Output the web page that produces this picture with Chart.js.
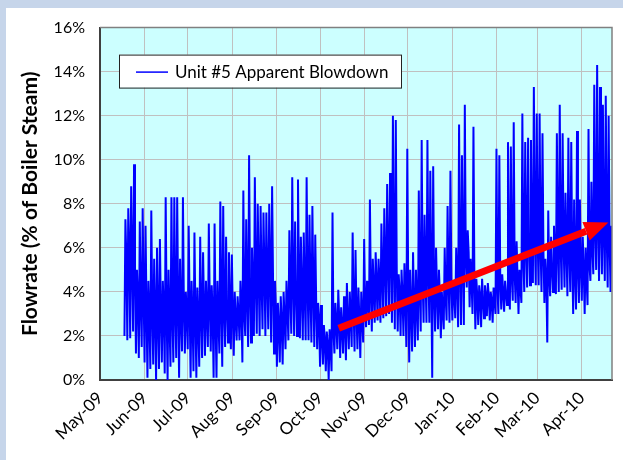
<!DOCTYPE html>
<html>
<head>
<meta charset="utf-8">
<script src="https://cdn.jsdelivr.net/npm/chart.js@4.4.0/dist/chart.umd.min.js"></script>
<style>
  html, body { margin: 0; padding: 0; background: #C6D5EA; }
  #wrap { position: absolute; left: 6px; top: 8px; width: 617px; height: 452px; background: #fff; overflow: hidden; }
  #blowdown { position: absolute; left: 0; top: -5px; }
</style>
</head>
<body>
<div id="wrap"><canvas id="blowdown" width="617" height="457"></canvas></div>
<script>
// x axis: days since 1 May 2009, one tick per month start
const monthDays = [0, 31, 61, 92, 123, 153, 184, 214, 245, 276, 304, 335];
const monthLabels = ["May-09", "Jun-09", "Jul-09", "Aug-09", "Sep-09", "Oct-09",
  "Nov-09", "Dec-09", "Jan-10", "Feb-10", "Mar-10", "Apr-10"];
const yTicks = [0, 2, 4, 6, 8, 10, 12, 14, 16];

// readings in 2-day bins starting 18 May 2009 (day 17): low dip, spike peak, top of dense band (%)
const binStart = 17;
const binDays = 2;
const lows = [
  2.0, 1.8, 1.9, 2.2, 1.2, 1.0, 1.5, 0.8, 0.1, 0.5, 0.7, 0.0, 0.5, 0.8, 0.3, 0.0, 0.6,
  0.8, 1.0, 0.1, 1.3, 1.2, 1.4, 0.1, 0.4, 0.1, 0.6, 1.0, 1.1, 1.5, 1.3, 0.1, 0.1, 1.2,
  0.6, 1.5, 1.7, 1.4, 1.1, 1.8, 1.8, 0.8, 2.0, 1.5, 1.7, 2.0, 2.1, 2.0, 2.3, 2.0, 2.3,
  1.7, 1.2, 0.6, 0.8, 0.7, 1.4, 1.8, 2.1, 2.0, 2.0, 1.9, 1.8, 1.8, 1.8, 1.7, 1.5, 1.4,
  0.6, 0.7, 0.4, 0.0, 0.4, 1.2, 1.4, 1.0, 1.2, 0.9, 1.4, 1.5, 1.3, 1.4, 1.0, 1.7, 2.4,
  2.5, 2.2, 2.6, 2.7, 2.6, 2.8, 2.9, 3.0, 2.6, 2.3, 2.2, 2.0, 2.0, 1.5, 0.8, 1.3, 1.5,
  1.8, 2.2, 2.6, 2.6, 2.6, 0.1, 2.2, 2.3, 1.9, 2.3, 2.7, 2.6, 2.7, 2.8, 2.4, 2.5, 2.5,
  4.2, 3.3, 3.0, 2.3, 2.5, 2.4, 2.8, 2.9, 2.7, 2.6, 3.0, 3.0, 3.2, 3.1, 3.4, 3.2, 3.6,
  3.5, 3.0, 3.5, 4.0, 4.2, 4.3, 4.4, 4.3, 4.3, 4.0, 3.5, 1.7, 3.8, 4.0, 3.9, 4.0, 4.1,
  4.2, 3.8, 4.0, 3.0, 3.2, 3.5, 3.6, 3.0, 3.4, 4.5, 4.8, 5.0, 4.5, 4.8, 4.5, 4.2, 4.0
];
const peaks = [
  7.3, 7.8, 8.8, 9.8, 5.0, 7.2, 7.8, 7.0, 4.5, 7.7, 5.5, 6.0, 6.4, 4.5, 8.3, 5.0, 8.3,
  8.3, 8.3, 5.5, 8.3, 4.0, 7.0, 4.5, 6.7, 4.2, 6.5, 5.8, 4.5, 7.1, 4.3, 7.1, 4.5, 8.1,
  7.9, 6.5, 5.8, 5.7, 4.0, 3.8, 4.5, 8.6, 7.3, 10.2, 6.0, 9.2, 8.0, 7.9, 7.6, 7.6, 8.0,
  8.8, 4.5, 3.5, 3.8, 4.0, 4.5, 6.8, 9.2, 7.2, 9.1, 6.5, 6.7, 9.2, 7.5, 7.9, 6.6, 3.5,
  3.4, 2.5, 2.2, 2.3, 7.6, 3.5, 4.1, 3.3, 3.8, 4.4, 4.0, 6.7, 5.9, 4.2, 4.0, 6.4, 4.5,
  8.2, 5.5, 5.8, 5.5, 7.1, 7.8, 8.9, 9.4, 12.0, 11.8, 4.8, 5.0, 5.3, 10.5, 5.0, 5.8, 5.0,
  8.6, 10.9, 7.5, 10.9, 9.5, 9.7, 6.0, 5.0, 4.0, 6.0, 7.9, 9.5, 4.5, 6.0, 11.6, 10.2, 12.5,
  6.8, 5.5, 11.5, 4.6, 4.3, 4.6, 4.3, 4.4, 4.0, 4.2, 10.5, 10.2, 4.8, 4.5, 10.8, 10.6, 11.7,
  6.3, 5.0, 12.1, 10.8, 11.0, 10.9, 13.3, 12.1, 12.1, 11.2, 5.5, 7.7, 6.5, 7.0, 11.2, 12.5, 11.2,
  8.5, 11.0, 10.8, 8.2, 11.3, 8.2, 6.5, 6.0, 11.4, 9.0, 13.4, 14.3, 13.3, 12.5, 12.9, 12.0, 7.0
];
const bandTops = [
  5.5, 6.0, 5.5, 5.0, 3.8, 3.5, 3.8, 3.2, 3.0, 3.2, 3.0, 2.8, 3.0, 3.2, 3.0, 2.6, 3.0,
  3.2, 3.5, 2.8, 3.2, 3.0, 3.3, 2.8, 3.0, 2.6, 3.0, 3.2, 3.0, 3.4, 3.0, 2.8, 2.8, 3.4,
  3.2, 3.3, 3.2, 3.0, 2.8, 3.0, 3.2, 3.0, 3.8, 4.0, 4.2, 4.5, 4.8, 4.5, 5.0, 4.6, 5.0,
  4.5, 3.2, 2.5, 2.6, 2.8, 3.2, 4.0, 4.5, 4.2, 4.4, 4.0, 4.0, 4.3, 4.0, 4.2, 3.5, 2.8,
  2.0, 1.8, 1.6, 1.5, 2.2, 2.6, 2.8, 2.4, 2.5, 2.6, 2.8, 3.2, 3.0, 2.8, 2.7, 3.4, 3.6,
  4.0, 4.2, 4.4, 4.5, 4.8, 5.2, 5.5, 5.8, 5.5, 5.0, 4.0, 3.8, 3.8, 4.0, 3.2, 3.3, 3.4,
  4.0, 4.5, 4.8, 5.0, 4.6, 4.0, 4.0, 3.8, 3.2, 3.8, 4.5, 4.4, 4.0, 4.5, 5.0, 5.2, 5.6,
  5.8, 4.5, 4.4, 3.8, 3.8, 3.7, 3.8, 3.8, 3.6, 3.6, 4.2, 4.4, 4.0, 4.0, 4.6, 4.6, 4.8,
  4.6, 4.2, 5.5, 6.0, 6.2, 6.0, 6.4, 6.2, 6.0, 5.8, 4.6, 4.8, 5.2, 5.5, 5.8, 6.0, 6.2,
  6.0, 5.8, 5.6, 4.8, 5.0, 5.2, 5.0, 4.6, 5.2, 6.0, 6.8, 7.0, 6.8, 6.6, 6.5, 6.2, 5.5
];

// red trend arrow, in axis units [day, %]
const arrowFrom = [166, 2.35];
const arrowTo = [353.5, 7.15];

const points = [];
lows.forEach(function(lo, i) {
  const d = binStart + i * binDays;
  points.push({ x: d, y: lo });
  points.push({ x: d + binDays / 3, y: peaks[i] });
  points.push({ x: d + 2 * binDays / 3, y: bandTops[i] });
});

const plotDecor = {
  id: "plotDecor",
  beforeDraw(chart) {
    const ca = chart.chartArea, ctx = chart.ctx;
    ctx.save();
    ctx.fillStyle = "#CCFFFF";
    ctx.fillRect(ca.left, ca.top, ca.right - ca.left, ca.bottom - ca.top);
    ctx.restore();
  },
  afterDatasetsDraw(chart) {
    const ctx = chart.ctx, xs = chart.scales.x, ys = chart.scales.y;
    const x0 = xs.getPixelForValue(arrowFrom[0]), y0 = ys.getPixelForValue(arrowFrom[1]);
    const x1 = xs.getPixelForValue(arrowTo[0]), y1 = ys.getPixelForValue(arrowTo[1]);
    const ang = Math.atan2(y1 - y0, x1 - x0);
    const headLen = 24, headHalf = 10;
    const bx = x1 - headLen * Math.cos(ang), by = y1 - headLen * Math.sin(ang);
    ctx.save();
    ctx.strokeStyle = "#FF0000";
    ctx.fillStyle = "#FF0000";
    ctx.lineWidth = 7;
    ctx.beginPath();
    ctx.moveTo(x0, y0);
    ctx.lineTo(bx, by);
    ctx.stroke();
    ctx.beginPath();
    ctx.moveTo(x1, y1);
    ctx.lineTo(bx + headHalf * Math.sin(ang), by - headHalf * Math.cos(ang));
    ctx.lineTo(bx - headHalf * Math.sin(ang), by + headHalf * Math.cos(ang));
    ctx.closePath();
    ctx.fill();
    ctx.restore();
  },
  afterDraw(chart) {
    const ca = chart.chartArea, ctx = chart.ctx;
    ctx.save();
    // top and right frame of the plot
    ctx.strokeStyle = "#808080";
    ctx.lineWidth = 1.5;
    ctx.beginPath();
    ctx.moveTo(ca.left, ca.top);
    ctx.lineTo(ca.right, ca.top);
    ctx.lineTo(ca.right, ca.bottom);
    ctx.stroke();
    // legend box
    const lx = ca.left + 19, ly = ca.top + 27, lw = 282, lh = 33;
    ctx.fillStyle = "#FFFFFF";
    ctx.fillRect(lx, ly, lw, lh);
    ctx.strokeStyle = "#222";
    ctx.lineWidth = 1;
    ctx.strokeRect(lx + 0.5, ly + 0.5, lw, lh);
    ctx.strokeStyle = "#0000FF";
    ctx.lineWidth = 1.5;
    ctx.beginPath();
    ctx.moveTo(lx + 17, ly + lh / 2 + 1);
    ctx.lineTo(lx + 49, ly + lh / 2 + 1);
    ctx.stroke();
    ctx.fillStyle = "#000";
    ctx.font = "17px Lato";
    ctx.textBaseline = "middle";
    ctx.fillText(chart.data.datasets[0].label, lx + 56, ly + lh / 2 + 1);
    ctx.restore();
  }
};

new Chart(document.getElementById("blowdown"), {
  type: "line",
  data: {
    datasets: [{
      label: "Unit #5 Apparent Blowdown",
      data: points,
      borderColor: "#0000FF",
      borderWidth: 2,
      pointRadius: 0,
      tension: 0,
      fill: false
    }]
  },
  options: {
    responsive: false,
    animation: false,
    events: [],
    layout: { padding: { left: 8, top: 15, right: 11, bottom: 0 } },
    plugins: { legend: { display: false }, tooltip: { enabled: false } },
    scales: {
      x: {
        type: "linear",
        min: 0,
        max: 356,
        afterBuildTicks: function(scale) {
          scale.ticks = monthDays.map(function(d) { return { value: d }; });
        },
        afterFit: function(scale) { scale.height = 80; },
        ticks: {
          autoSkip: false,
          maxRotation: 45,
          minRotation: 45,
          padding: 8,
          color: "#000",
          font: { family: "Lato", size: 17 },
          callback: function(v, i) { return monthLabels[i]; }
        },
        grid: { color: "#C0C0C0", lineWidth: 1, drawTicks: false },
        border: { color: "#404040", width: 2 }
      },
      y: {
        min: 0,
        max: 16,
        afterBuildTicks: function(scale) {
          scale.ticks = yTicks.map(function(v) { return { value: v }; });
        },
        afterFit: function(scale) { scale.width = 86; },
        ticks: {
          padding: 15,
          color: "#000",
          font: { family: "Lato", size: 16 },
          callback: function(v) { return v + "%"; }
        },
        grid: { color: "#C0C0C0", lineWidth: 1, drawTicks: false },
        border: { color: "#404040", width: 2 },
        title: {
          display: true,
          text: "Flowrate (% of Boiler Steam)",
          color: "#000",
          font: { family: "Lato", size: 21, weight: "bold" },
          padding: { top: 4, bottom: 0 }
        }
      }
    }
  },
  plugins: [plotDecor]
});
</script>
</body>
</html>
